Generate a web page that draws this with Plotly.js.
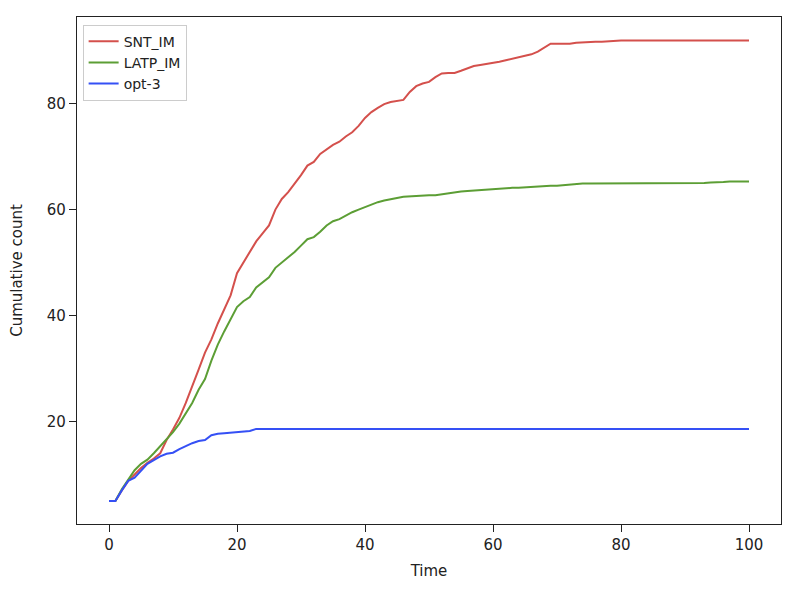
<!DOCTYPE html>
<html>
<head>
<meta charset="utf-8">
<script src="https://cdn.plot.ly/plotly-3.0.1.min.js"></script>
<style>
  html, body { margin: 0; padding: 0; background: #fff; }
  #chart { width: 798px; height: 599px; }
</style>
</head>
<body>
<div id="chart"></div>
<script>
// cumulative counts sampled at each time step 0..100
const sntIm = [
  5, 5, 7, 8.8, 10, 11.2, 12.2, 13, 14, 16.5,
  18.5, 20.7, 23.5, 26.5, 29.8, 33, 35.5, 38.5, 41, 43.8,
  48, 50, 52, 54, 55.5, 57, 60, 62, 63.3, 64.8,
  66.5, 68.3, 69, 70.5, 71.3, 72.2, 72.8, 73.8, 74.6, 75.8,
  77.3, 78.4, 79.2, 79.9, 80.3, 80.5, 80.7, 82.2, 83.3, 83.8,
  84.1, 85, 85.7, 85.8, 85.8, 86.2, 86.7, 87.1, 87.3, 87.5,
  87.6, 87.9, 88.2, 88.5, 88.7, 89, 89.3, 89.8, 90.6, 91.3,
  91.3, 91.3, 91.3, 91.5, 91.6, 91.7, 91.7, 91.7, 91.8, 91.8,
  91.9, 91.9, 91.9, 91.9, 91.9, 91.9, 91.9, 91.9, 91.9, 91.9,
  91.9, 91.9, 91.9, 91.9, 91.9, 91.9, 91.9, 91.9, 91.9, 91.9,
  91.9
];

const latpIm = [
  5, 5, 7.2, 9, 10.8, 12, 12.8, 14, 15.3, 16.8,
  18, 19.6, 21.5, 23.5, 26, 28, 31.5, 34.5, 37, 39.3,
  41.6, 42.7, 43.5, 45.3, 46.3, 47.2, 49, 50, 51, 52,
  53.2, 54.4, 54.8, 55.8, 57, 57.8, 58.2, 58.9, 59.5, 60,
  60.5, 61, 61.4, 61.7, 62, 62.2, 62.4, 62.5, 62.6, 62.6,
  62.7, 62.7, 62.9, 63.1, 63.3, 63.4, 63.5, 63.6, 63.7, 63.8,
  63.9, 64, 64.1, 64.1, 64.1, 64.2, 64.3, 64.4, 64.4, 64.5,
  64.5, 64.6, 64.8, 64.9, 64.9, 64.9, 64.9, 64.9, 64.9, 64.9,
  64.9, 64.9, 64.9, 64.9, 64.9, 64.9, 64.9, 64.9, 64.9, 64.9,
  64.9, 64.9, 65, 65, 65.1, 65.1, 65.2, 65.3, 65.3, 65.3,
  65.3
];

const opt3 = [
  5, 5, 7, 8.8, 9.4, 10.8, 12, 12.7, 13.4, 13.9,
  14.1, 14.8, 15.4, 15.9, 16.3, 16.5, 17.4, 17.7, 17.8, 17.9,
  18, 18.1, 18.2, 18.6, 18.6, 18.6, 18.6, 18.6, 18.6, 18.6,
  18.6, 18.6, 18.6, 18.6, 18.6, 18.6, 18.6, 18.6, 18.6, 18.6,
  18.6, 18.6, 18.6, 18.6, 18.6, 18.6, 18.6, 18.6, 18.6, 18.6,
  18.6, 18.6, 18.6, 18.6, 18.6, 18.6, 18.6, 18.6, 18.6, 18.6,
  18.6, 18.6, 18.6, 18.6, 18.6, 18.6, 18.6, 18.6, 18.6, 18.6,
  18.6, 18.6, 18.6, 18.6, 18.6, 18.6, 18.6, 18.6, 18.6, 18.6,
  18.6, 18.6, 18.6, 18.6, 18.6, 18.6, 18.6, 18.6, 18.6, 18.6,
  18.6, 18.6, 18.6, 18.6, 18.6, 18.6, 18.6, 18.6, 18.6, 18.6,
  18.6
];

const seriesNames = ['SNT_IM', 'LATP_IM', 'opt-3'];
const xTicks = [0, 20, 40, 60, 80, 100];
const yTicks = [20, 40, 60, 80];

const time = sntIm.map((_, i) => i);
const colors = ['#d4504c', '#5c9e35', '#3550f5'];

const data = [sntIm, latpIm, opt3].map((ys, k) => ({
  x: time,
  y: ys,
  mode: 'lines',
  name: seriesNames[k],
  line: { color: colors[k], width: 2 },
}));

const axisStyle = {
  showline: true,
  linecolor: '#222',
  linewidth: 1.2,
  mirror: true,
  ticks: 'outside',
  ticklen: 7,
  tickcolor: '#222',
  showgrid: false,
  zeroline: false,
  tickfont: { size: 15, color: '#222' },
};

const layout = {
  width: 798,
  height: 599,
  margin: { l: 77, r: 17, t: 17, b: 75 },
  paper_bgcolor: '#fff',
  plot_bgcolor: '#fff',
  font: { family: 'DejaVu Sans, sans-serif', color: '#222' },
  xaxis: Object.assign({}, axisStyle, {
    range: [-5, 105],
    tickvals: xTicks,
    title: { text: 'Time', font: { size: 15 }, standoff: 12 },
  }),
  yaxis: Object.assign({}, axisStyle, {
    range: [0.65, 96.35],
    tickvals: yTicks,
    title: { text: 'Cumulative count', font: { size: 15 }, standoff: 20 },
  }),
  showlegend: true,
  legend: {
    x: 0.008,
    y: 0.985,
    xanchor: 'left',
    yanchor: 'top',
    bgcolor: '#fff',
    bordercolor: '#ccc',
    borderwidth: 1,
    font: { size: 14 },
    tracegroupgap: 0,
    itemwidth: 30,
  },
};

Plotly.newPlot('chart', data, layout, { displayModeBar: false });
</script>
</body>
</html>
